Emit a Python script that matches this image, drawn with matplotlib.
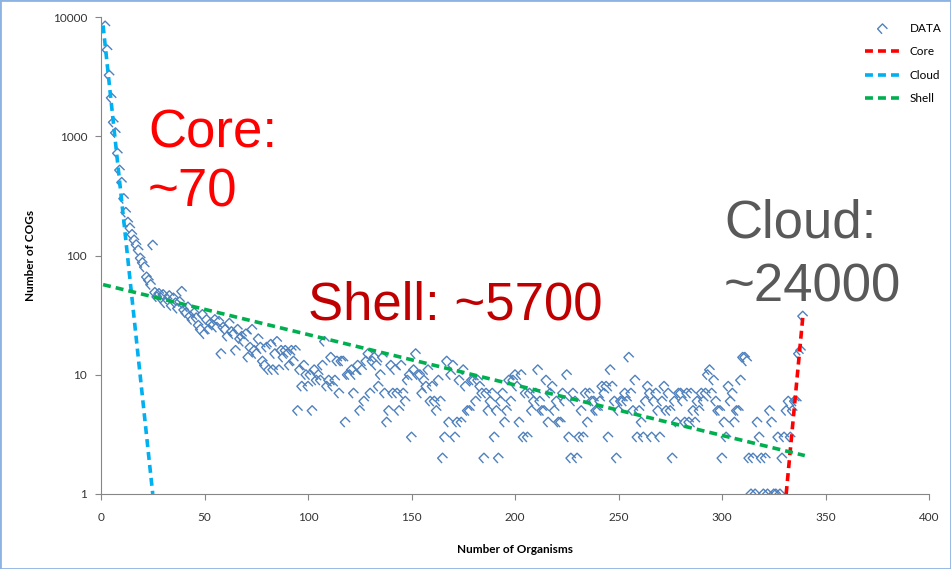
import matplotlib.pyplot as plt
from matplotlib.path import Path
from matplotlib.patches import Rectangle

# number of organisms (x) and number of COGs found in exactly that many organisms (y)
organisms = list(range(2, 340))
cogs = [
    8400, 5300, 3250, 2100, 1310, 1070, 720, 520, 410, 300,   # 2-11
    230, 190, 170, 150, 135, 123, 111, 95, 87, 80,            # 12-21
    66, 62, 57, 122, 49, 45, 48, 44, 47, 40,                  # 22-31
    43, 46, 38, 44, 40, 36, 41, 50, 35, 33,                   # 32-41
    37, 31, 29, 33, 30, 26, 24, 32, 22, 29,                   # 42-51
    24, 27, 26, 29, 25, 28, 15, 25, 24, 21,                   # 52-61
    27, 23, 22, 16, 24, 20, 21, 19, 22, 14,                   # 62-71
    17, 24, 16, 15, 20, 17, 13, 12, 17, 11,                   # 72-81
    18, 11, 15, 19, 11, 16, 14, 16, 15, 12,                   # 82-91
    16, 13, 16, 5, 11, 8, 12, 10, 8, 10,                      # 92-101
    5, 11, 9, 10, 9, 12, 19, 8, 9, 14,                        # 102-111
    8, 9, 13, 7, 13, 13, 4, 10, 10, 11,                       # 112-121
    7, 10, 12, 5, 11, 6, 13, 15, 7, 13,                       # 122-131
    14, 12, 8, 10, 14, 7, 4, 5, 12, 7,                        # 132-141
    11, 7, 5, 12, 7, 6, 9, 10, 3, 11,                         # 142-151
    15, 10, 10, 7, 9, 8, 11, 6, 8, 6,                         # 152-161
    5, 9, 6, 2, 3, 13, 4, 10, 12, 3,                          # 162-171
    4, 9, 4, 11, 8, 5, 5, 9, 9, 6,                            # 172-181
    9, 8, 7, 2, 7, 5, 6, 7, 3, 5,                             # 182-191
    2, 6, 7, 4, 5, 9, 6, 9, 10, 8,                            # 192-201
    4, 10, 3, 7, 3, 7, 5, 6, 7, 11,                           # 202-211
    6, 5, 5, 9, 4, 7, 8, 5, 6, 4,                             # 212-221
    4, 7, 6, 10, 3, 2, 7, 6, 2, 3,                            # 222-231
    5, 3, 7, 4, 7, 6, 6, 5, 5, 6,                             # 232-241
    8, 7, 8, 3, 11, 8, 6, 2, 5, 6,                            # 242-251
    6, 7, 6, 14, 7, 5, 9, 3, 5, 4,                            # 252-261
    3, 6, 8, 7, 3, 6, 7, 5, 3, 6,                             # 262-271
    8, 5, 7, 5, 2, 6, 4, 7, 7, 6,                             # 272-281
    4, 7, 4, 7, 5, 4, 6, 5, 7, 6,                             # 282-291
    7, 10, 11, 7, 9, 6, 5, 5, 2, 4,                           # 292-301
    3, 8, 6, 7, 4, 5, 5, 9, 14, 14,                           # 302-311
    13, 2, 1, 2, 1, 4, 3, 2, 1, 2,                            # 312-321
    1, 5, 4, 1, 1, 3, 1, 2, 3, 5,                             # 322-331
    6, 3, 5, 6, 6, 15, 16, 31,                                # 332-339
]

# fitted trend lines (end points)
core_x = [331, 339]
core_y = [1, 30]
cloud_x = [1, 25]
cloud_y = [8500, 1]
shell_x = [1, 340]
shell_y = [57, 2.1]

W, H = 951, 569
fig = plt.figure(figsize=(W / 100, H / 100), dpi=100)
ax = fig.add_axes([101 / W, 1 - 494 / H, 828 / W, 477 / H])

marker = Path([(-0.1, -1), (-1, 0), (0, 1), (1, 0)])
ax.scatter(organisms, cogs, marker=marker, s=50, facecolors='none',
           edgecolors='#4F81BD', linewidths=1.0, label='DATA', zorder=2)

dash = dict(lw=2.6, dashes=(2.2, 1.4), dash_capstyle='butt', zorder=3)
ax.plot(core_x, core_y, color='#FF0000', label='Core', **dash)
ax.plot(cloud_x, cloud_y, color='#00B0F0', label='Cloud', **dash)
ax.plot(shell_x, shell_y, color='#00B050', label='Shell', **dash)

ax.set_yscale('log')
ax.set_ylim(1, 10000)
ax.set_xlim(0, 400)
ax.set_yticks([1, 10, 100, 1000, 10000])
ax.set_yticklabels(['1', '10', '100', '1000', '10000'])
ax.set_xticks(range(0, 401, 50))
ax.minorticks_off()

for s in ['top', 'right']:
    ax.spines[s].set_visible(False)
for s in ['left', 'bottom']:
    ax.spines[s].set_color('#868686')
ax.tick_params(axis='both', colors='#868686', labelcolor='#333333',
               labelsize=8.5, length=4, direction='out')
for lab in ax.get_xticklabels() + ax.get_yticklabels():
    lab.set_family('Lato')
ax.tick_params(axis='x', pad=9)
ax.tick_params(axis='y', pad=6)

ax.set_xlabel('Number of Organisms', fontsize=8.5, fontweight='bold',
              family='Lato', labelpad=15)
ax.set_ylabel('Number of COGs', fontsize=8.5, fontweight='bold',
              family='Lato', labelpad=12)

leg = ax.legend(loc='upper right', bbox_to_anchor=(0.995, 0.968),
                bbox_transform=fig.transFigure, frameon=False,
                prop={'family': 'Lato', 'size': 8.5}, handlelength=3.0,
                labelspacing=1.05, borderaxespad=0, handletextpad=0.8)

# big annotations
big = dict(fontsize=38, family='Liberation Sans', va='baseline', ha='left')
fig.text(148 / W, 1 - 147 / H, 'Core:', color='#FF0000', **big)
fig.text(148 / W, 1 - 207 / H, '~70', color='#FF0000', **big)
fig.text(308 / W, 1 - 320 / H, 'Shell: ~5700', color='#C00000', **big)
fig.text(724 / W, 1 - 238 / H, 'Cloud:', color='#595959', **big)
fig.text(724 / W, 1 - 302 / H, '~24000', color='#595959', **big)

fig.patches.append(Rectangle((0, 0), 1, 1, transform=fig.transFigure,
                             fill=False, edgecolor='#8DB3E2', lw=2))

plt.savefig('out.png', dpi=100)
